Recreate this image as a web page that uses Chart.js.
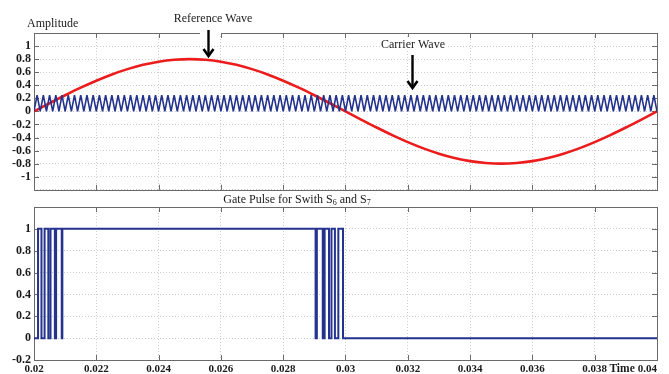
<!DOCTYPE html>
<html>
<head>
<meta charset="utf-8">
<script src="https://cdn.jsdelivr.net/npm/chart.js@4.4.1/dist/chart.umd.min.js"></script>
<style>
  html, body { margin: 0; padding: 0; background: #ffffff; }
  #wrap { position: relative; width: 669px; height: 374px; overflow: hidden; background: #ffffff; }
  #wrap canvas { position: absolute; left: 0; }
  #topChart { top: 0; }
  #gateChart { top: 190px; }
</style>
</head>
<body>
<div id="wrap">
  <canvas id="topChart" width="669" height="200"></canvas>
  <canvas id="gateChart" width="669" height="184"></canvas>
</div>
<script>
// ---- time axis ----
const xTicks = [0.02, 0.022, 0.024, 0.026, 0.028, 0.03, 0.032, 0.034, 0.036, 0.038, 0.04];
const xTickLabels = ['0.02', '0.022', '0.024', '0.026', '0.028', '0.03', '0.032', '0.034', '0.036', '0.038', '0.04'];
const xTitle = 'Time';

// ---- upper panel: amplitude axis ----
const ampTicks = [-1.2, -1, -0.8, -0.6, -0.4, -0.2, 0, 0.2, 0.4, 0.6, 0.8, 1, 1.2];
const ampTickLabels = ['', '-1', '-0.8', '-0.6', '-0.4', '-0.2', '0', '0.2', '0.4', '0.6', '0.8', '1', ''];

// reference (modulating) wave, sampled every 0.5 ms from t = 0.02 s
const refStart = 0.02;
const refStep = 0.0005;
const refValues = [
  0, 0.125, 0.247, 0.363, 0.470, 0.566, 0.647, 0.713, 0.761, 0.790,
  0.800, 0.790, 0.761, 0.713, 0.647, 0.566, 0.470, 0.363, 0.247, 0.125,
  0, -0.125, -0.247, -0.363, -0.470, -0.566, -0.647, -0.713, -0.761, -0.790,
  -0.800, -0.790, -0.761, -0.713, -0.647, -0.566, -0.470, -0.363, -0.247, -0.125,
  0
];

// triangular carrier, vertices every 0.1 ms from t = 0.02 s
const carrierStart = 0.02;
const carrierStep = 0.0001;
const carrierValues = [
  0, 0.25, 0, 0.25, 0, 0.25, 0, 0.25, 0, 0.25, 0, 0.25, 0, 0.25, 0, 0.25, 0, 0.25, 0, 0.25,
  0, 0.25, 0, 0.25, 0, 0.25, 0, 0.25, 0, 0.25, 0, 0.25, 0, 0.25, 0, 0.25, 0, 0.25, 0, 0.25,
  0, 0.25, 0, 0.25, 0, 0.25, 0, 0.25, 0, 0.25, 0, 0.25, 0, 0.25, 0, 0.25, 0, 0.25, 0, 0.25,
  0, 0.25, 0, 0.25, 0, 0.25, 0, 0.25, 0, 0.25, 0, 0.25, 0, 0.25, 0, 0.25, 0, 0.25, 0, 0.25,
  0, 0.25, 0, 0.25, 0, 0.25, 0, 0.25, 0, 0.25, 0, 0.25, 0, 0.25, 0, 0.25, 0, 0.25, 0, 0.25,
  0, 0.25, 0, 0.25, 0, 0.25, 0, 0.25, 0, 0.25, 0, 0.25, 0, 0.25, 0, 0.25, 0, 0.25, 0, 0.25,
  0, 0.25, 0, 0.25, 0, 0.25, 0, 0.25, 0, 0.25, 0, 0.25, 0, 0.25, 0, 0.25, 0, 0.25, 0, 0.25,
  0, 0.25, 0, 0.25, 0, 0.25, 0, 0.25, 0, 0.25, 0, 0.25, 0, 0.25, 0, 0.25, 0, 0.25, 0, 0.25,
  0, 0.25, 0, 0.25, 0, 0.25, 0, 0.25, 0, 0.25, 0, 0.25, 0, 0.25, 0, 0.25, 0, 0.25, 0, 0.25,
  0, 0.25, 0, 0.25, 0, 0.25, 0, 0.25, 0, 0.25, 0, 0.25, 0, 0.25, 0, 0.25, 0, 0.25, 0, 0.25,
  0
];

// ---- lower panel: gate pulse ----
const gateTicks = [-0.2, 0, 0.2, 0.4, 0.6, 0.8, 1, 1.2];
const gateTickLabels = ['-0.2', '0', '0.2', '0.4', '0.6', '0.8', '1', ''];
// switching instants and the level held from each instant onward
const gateTimes = [
  0.02, 0.02013, 0.02024, 0.02034, 0.02046, 0.02053, 0.02067, 0.02071, 0.02089, 0.02091,
  0.02904, 0.02908, 0.02927, 0.02933, 0.02947, 0.02955, 0.02966, 0.02977, 0.02992, 0.04
];
const gateLevels = [
  0, 1, 0, 1, 0, 1, 0, 1, 0, 1,
  0, 1, 0, 1, 0, 1, 0, 1, 0, 0
];

// ---- styling ----
const NAVY = '#24338e';
const RED = '#ec1c1c';
const FRAME = '#6a6a6a';
const GRID = '#cdcdcd';
const TEXT = '#1a1a1a';
const SERIF = '"Liberation Serif", "Times New Roman", serif';
const yTickFont = { family: SERIF, size: 12, weight: 'bold' };
const xTickFont = { family: SERIF, size: 11, weight: 'bold' };

const refData = refValues.map((v, i) => ({ x: refStart + i * refStep, y: v }));
const carrierData = carrierValues.map((v, i) => ({ x: carrierStart + i * carrierStep, y: v }));
const gateData = gateTimes.map((t, i) => ({ x: t, y: gateLevels[i] }));

// inward tick marks and a closed box around the plot area
const frameAndTicks = {
  id: 'frameAndTicks',
  beforeDatasetsDraw(chart) {
    const { ctx, chartArea: a, scales: { x, y } } = chart;
    ctx.save();
    ctx.strokeStyle = FRAME;
    ctx.lineWidth = 1;
    ctx.beginPath();
    x.ticks.forEach(t => {
      const px = Math.round(x.getPixelForValue(t.value)) + 0.5;
      ctx.moveTo(px, a.top); ctx.lineTo(px, a.top + 5);
      ctx.moveTo(px, a.bottom); ctx.lineTo(px, a.bottom - 5);
    });
    y.ticks.forEach(t => {
      const py = Math.round(y.getPixelForValue(t.value)) + 0.5;
      ctx.moveTo(a.left, py); ctx.lineTo(a.left + 5, py);
      ctx.moveTo(a.right, py); ctx.lineTo(a.right - 5, py);
    });
    ctx.stroke();
    ctx.strokeRect(Math.round(a.left) + 0.5, Math.round(a.top) + 0.5,
                   Math.round(a.right - a.left), Math.round(a.bottom - a.top));
    ctx.restore();
  }
};

function downArrow(ctx, x, y0, y1) {
  ctx.save();
  ctx.strokeStyle = '#000';
  ctx.lineWidth = 2.4;
  ctx.beginPath();
  ctx.moveTo(x, y0); ctx.lineTo(x, y1 - 2);
  ctx.stroke();
  ctx.lineWidth = 2.6;
  ctx.lineJoin = 'miter';
  ctx.beginPath();
  ctx.moveTo(x - 5, y1 - 7);
  ctx.lineTo(x, y1);
  ctx.lineTo(x + 5, y1 - 7);
  ctx.stroke();
  ctx.restore();
}

// annotations of the upper panel
const upperNotes = {
  id: 'upperNotes',
  afterDraw(chart) {
    const ctx = chart.ctx;
    ctx.save();
    ctx.font = '12px ' + SERIF;
    ctx.fillStyle = TEXT;
    ctx.textBaseline = 'alphabetic';
    ctx.textAlign = 'left';
    ctx.fillText('Amplitude', 27, 27);

    ctx.textAlign = 'center';
    ctx.fillText('Reference Wave', 213, 22);

    // carrier label sits on a white patch over the grid
    ctx.fillStyle = '#ffffff';
    ctx.fillRect(381, 37, 65, 14);
    ctx.fillStyle = TEXT;
    ctx.fillText('Carrier Wave', 413, 48);

    // gap in the top edge where the reference arrow passes
    ctx.fillStyle = '#ffffff';
    ctx.fillRect(200, 31, 21, 5);
    downArrow(ctx, 208.5, 30, 56);
    downArrow(ctx, 412.5, 55, 88);
    ctx.restore();
  }
};

// title with subscripts and the time caption of the lower panel
const lowerNotes = {
  id: 'lowerNotes',
  afterDraw(chart) {
    const ctx = chart.ctx;
    const a = chart.chartArea;
    ctx.save();
    ctx.fillStyle = TEXT;
    ctx.textBaseline = 'alphabetic';
    ctx.textAlign = 'left';
    const parts = [
      ['Gate Pulse for Swith S', 12, 0],
      ['6', 8, 2],
      [' and S', 12, 0],
      ['7', 8, 2]
    ];
    let total = 0;
    parts.forEach(p => { ctx.font = p[1] + 'px ' + SERIF; total += ctx.measureText(p[0]).width; });
    let cx = 297 - total / 2;
    const base = 13;
    parts.forEach(p => {
      ctx.font = p[1] + 'px ' + SERIF;
      ctx.fillText(p[0], cx, base + p[2]);
      cx += ctx.measureText(p[0]).width;
    });

    // last tick value with the axis caption in front of it
    const yb = a.bottom + 12;
    ctx.textAlign = 'right';
    ctx.font = 'bold 11px ' + SERIF;
    const last = xTickLabels[xTickLabels.length - 1];
    ctx.fillText(last, a.right, yb);
    const w = ctx.measureText(last).width;
    ctx.font = 'bold 11.5px ' + SERIF;
    ctx.fillText(xTitle, a.right - w - 3, yb);
    ctx.restore();
  }
};

function xScale(showLabels, height) {
  return {
    type: 'linear',
    min: 0.02,
    max: 0.04,
    afterBuildTicks: s => { s.ticks = xTicks.map(v => ({ value: v })); },
    afterFit: s => { s.height = height; },
    grid: { color: GRID, lineWidth: 1, drawTicks: false },
    border: { display: false, dash: [1, 2] },
    ticks: {
      display: showLabels,
      autoSkip: false,
      maxRotation: 0,
      padding: 3,
      color: TEXT,
      font: xTickFont,
      callback: (v, i) => (i === xTickLabels.length - 1 ? '' : xTickLabels[i])
    }
  };
}

function yScale(min, max, ticks, labels) {
  return {
    type: 'linear',
    min: min,
    max: max,
    afterBuildTicks: s => { s.ticks = ticks.map(v => ({ value: v })); },
    afterFit: s => { s.width = 34; },
    grid: { color: GRID, lineWidth: 1, drawTicks: false },
    border: { display: false, dash: [1, 2] },
    ticks: {
      autoSkip: false,
      padding: 3,
      color: TEXT,
      font: yTickFont,
      callback: (v, i) => labels[i]
    }
  };
}

const common = {
  responsive: false,
  animation: false,
  events: [],
  plugins: { legend: { display: false }, tooltip: { enabled: false }, title: { display: false } },
  elements: { point: { radius: 0 } }
};

new Chart(document.getElementById('topChart'), {
  type: 'line',
  data: {
    datasets: [
      { data: carrierData, borderColor: NAVY, borderWidth: 1.6, borderJoinStyle: 'bevel', tension: 0, fill: false },
      { data: refData, borderColor: RED, borderWidth: 2.6, cubicInterpolationMode: 'monotone', fill: false }
    ]
  },
  options: Object.assign({}, common, {
    layout: { padding: { top: 33, left: 0, right: 12, bottom: 0 } },
    scales: {
      x: xScale(false, 10),
      y: yScale(-1.2, 1.2, ampTicks, ampTickLabels)
    }
  }),
  plugins: [frameAndTicks, upperNotes]
});

new Chart(document.getElementById('gateChart'), {
  type: 'line',
  data: {
    datasets: [
      { data: gateData, borderColor: NAVY, borderWidth: 2, stepped: 'before', fill: false }
    ]
  },
  options: Object.assign({}, common, {
    layout: { padding: { top: 17, left: 0, right: 12, bottom: 0 } },
    scales: {
      x: xScale(true, 14),
      y: yScale(-0.2, 1.2, gateTicks, gateTickLabels)
    }
  }),
  plugins: [frameAndTicks, lowerNotes]
});
</script>
</body>
</html>
